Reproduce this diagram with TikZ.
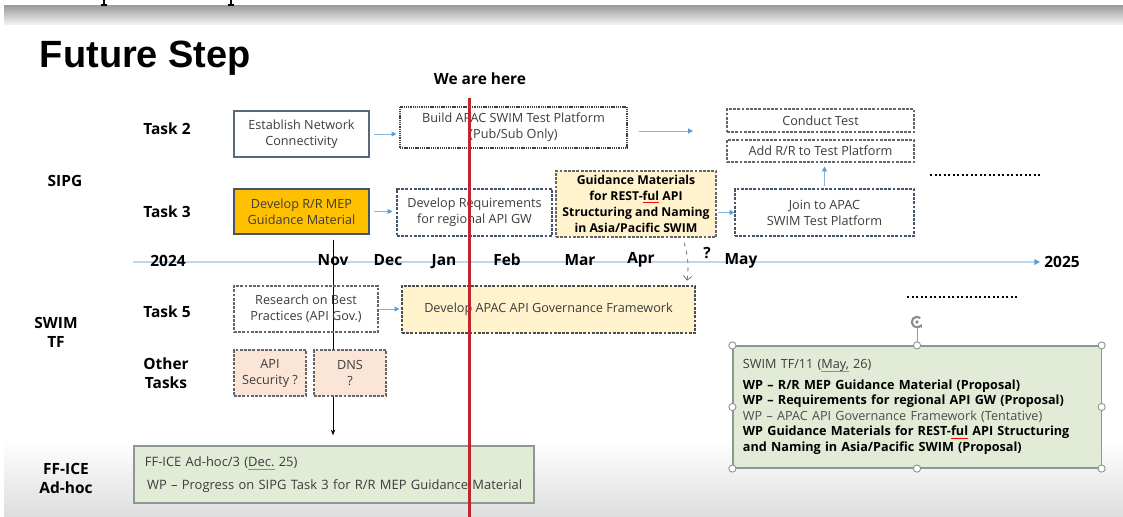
\documentclass[tikz,border=0pt]{standalone}
\usepackage{fontspec}
\setmainfont{Open Sans}
\newfontfamily\titlefont{Liberation Sans}
\usetikzlibrary{arrows.meta, calc, positioning}
\definecolor{boxGray}{HTML}{5A6878}
\definecolor{dashGray}{HTML}{44546A}
\definecolor{txtGray}{HTML}{3C3C3C}
\definecolor{arrowBlue}{HTML}{5B9BD5}
\definecolor{lineBlue}{HTML}{BDD7EE}
\definecolor{orangeFill}{HTML}{FFC000}
\definecolor{yellowFill}{HTML}{FFF2CC}
\definecolor{peachFill}{HTML}{FBE5D6}
\definecolor{greenFill}{HTML}{E2EBD6}
\definecolor{greenEdge}{HTML}{8C9896}
\definecolor{redLine}{HTML}{C0262D}
\newsavebox\wavybox
\newcommand{\wavy}[2]{\sbox\wavybox{#2}\rlap{\textcolor{#1}{\rule[-1.8pt]{\wd\wavybox}{0.5pt}}}\usebox\wavybox}
\newcommand{\boxfont}{\fontsize{9}{11.4}\selectfont}

\begin{document}
\begin{tikzpicture}[x=0.025cm, y=-0.025cm, >=Stealth,
    box/.style={draw=boxGray, line width=0.8pt, fill=white, inner sep=0pt, align=center, font=\boxfont, text=txtGray},
    dbox/.style={box, draw=dashGray, dash pattern=on 2pt off 1pt},
    lbl/.style={font=\fontsize{11}{13.5}\selectfont\bfseries, align=center},
    flow/.style={draw=arrowBlue!75, line width=0.7pt, -{Triangle[length=3.5pt, width=3.5pt, color=arrowBlue]}},
    greenbox/.style={draw=greenEdge, line width=0.8pt, fill=greenFill, inner ysep=0pt, align=left, text=txtGray},
    dots/.style={line width=1.5pt, dash pattern=on 1.5pt off 1.7pt},
    handle/.style={draw=black!45, fill=white, line width=0.6pt}]
    \useasboundingbox (0,0) rectangle (1123,517);
    \fill[white] (0,0) rectangle (1123,517);

    % screen frame
    \shade[top color=black!38, bottom color=black!4] (4,6) rectangle (1123,25);
    \shade[top color=white, bottom color=black!13] (4,440) rectangle (1123,517);
    \draw[line width=0.8pt] (104,0) -- (104,5) (101,5) -- (107,5);
    \draw[line width=0.8pt] (231,0) -- (231,5) (228,5) -- (234,5);

    \node[anchor=base west, font=\titlefont\bfseries\fontsize{27}{30}\selectfont] (title) at (35,68) {Future Step};
    \node[lbl] (here) at (480,79) {We are here};

    % row labels
    \node[lbl] (task2) at (167,129) {Task 2};
    \node[lbl] (sipg) at (65,181) {SIPG};
    \node[lbl] (task3) at (167,212) {Task 3};
    \node[lbl] (task5) at (167,312) {Task 5};
    \node[lbl] (swimtf) at (56,332) {SWIM\\TF};
    \node[lbl] (other) at (166,373) {Other\\Tasks};
    \node[lbl] (adhoc) at (66,478) {FF-ICE\\Ad-hoc};

    % time line
    \coordinate (tStart) at (133,262);
    \coordinate (tEnd) at (1040,262);
    \draw[lineBlue, line width=0.9pt, -{Triangle[length=4pt, width=4pt, color=arrowBlue]}] (tStart) -- (tEnd);
    \node[lbl, anchor=base] (y2024) at (168,267) {2024};
    \node[lbl, anchor=base] (nov) at (333,266) {Nov};
    \node[lbl, anchor=base] (dec) at (388,266) {Dec};
    \node[lbl, anchor=base] (jan) at (444,266) {Jan};
    \node[lbl, anchor=base] (feb) at (507,266) {Feb};
    \node[lbl, anchor=base] (mar) at (580,266) {Mar};
    \node[lbl, anchor=base] (apr) at (641,264) {Apr};
    \node[lbl] (ask) at (707,253) {?};
    \node[lbl, anchor=base] (may) at (741,265) {May};
    \node[lbl, anchor=base] (y2025) at (1062,268) {2025};

    % Task 2
    \node[box, minimum width=3.375cm, minimum height=1.15cm] (est) at (301.5,134) {Establish Network\\Connectivity};
    \node[box, draw=black!75, dash pattern=on 0.8pt off 0.5pt, minimum width=5.675cm, minimum height=1.025cm] (build) at (513.5,127.5) {Build APAC SWIM Test Platform\\(Pub/Sub Only)};
    \node[dbox, draw=black!60, minimum width=4.675cm, minimum height=0.575cm] (conduct) at (820.5,120.5) {Conduct Test};
    \node[dbox, draw=black!60, minimum width=4.675cm, minimum height=0.55cm] (addRR) at (820.5,151) {Add R/R to Test Platform};
    \coordinate (buildTo) at (693,131);
    \draw[flow, shorten <=2.8pt, shorten >=2.1pt] (est.east) -- (est.east -| build.west);
    \draw[flow] (build.east |- buildTo) ++(11,0) -- (buildTo);

    % Task 3
    \node[box, fill=orangeFill, draw=dashGray, minimum width=3.375cm, minimum height=1.125cm] (mep) at (301.5,211.5) {Develop R/R MEP\\Guidance Material};
    \node[dbox, minimum width=3.875cm, minimum height=1.175cm] (req) at (474.5,212.5) {Develop Requirements\\for regional API GW};
    \node[dbox, draw=black!60, fill=yellowFill, text=black, minimum width=4cm, minimum height=1.65cm,
        font=\fontsize{8.7}{11.4}\selectfont\bfseries] (guide) at (636,204) {Guidance Materials\\for REST-\wavy{red}{ful} API\\Structuring and Naming\\in Asia/Pacific SWIM};
    \node[dbox, minimum width=4.475cm, minimum height=1.175cm] (join) at (824.5,212.5) {Join to APAC\\SWIM Test Platform};
    \draw[flow, shorten <=2.8pt, shorten >=2.8pt] (mep.east) -- (mep.east -| req.west);
    \draw[flow, shorten <=0.7pt] (guide.east |- join) -- (join.west);
    \draw[flow, shorten <=1.4pt, shorten >=2.8pt] (join.north) -- (join.north |- addRR.south);
    \draw[black!70, thin, dashed, ->, >={Straight Barb[length=3pt]}] ($(guide.south)+(48,5)$) to[bend left=12] ($(guide.south)+(51,43)$);

    % Task 5 and other tasks
    \draw[thin, -{Stealth[length=4pt, width=3.2pt]}, shorten >=0.27cm] (mep.south -| nov) ++(0,5) -- (nov |- 0,446);
    \node[dbox, fill=none, draw=black!60, minimum width=3.6cm, minimum height=1.15cm] (research) at (306,309) {Research on Best\\Practices (API Gov.)};
    \node[dbox, draw=black!70, fill=yellowFill, minimum width=7.325cm, minimum height=1.175cm] (gov) at (548.5,309.5) {Develop APAC API Governance Framework};
    \draw[flow, shorten >=1.4pt] (research.east) -- (research.east -| gov.west);
    \node[dbox, draw=black!60, fill=peachFill, minimum width=1.8cm, minimum height=1.15cm] (apiSec) at (270,373) {API\\Security ?};
    \node[dbox, draw=black!60, fill=peachFill, minimum width=1.8cm, minimum height=1.15cm] (dns) at (350,373) {DNS\\?};

    \draw[dots] (930,175) -- (1040,175);
    \draw[dots] (907,297) -- (1017,297);

    % meetings
    \node[greenbox, minimum width=10cm, minimum height=1.425cm, text width=9.45cm, inner xsep=0.275cm,
        font=\fontsize{9.2}{11.4}\selectfont] (ffice) at (334,474.5)
        {FF-ICE Ad-hoc/3 (\wavy{arrowBlue}{Dec.} 25)\\[4.5pt]
         \hspace*{1.5pt}WP – Progress on SIPG Task 3 for R/R MEP Guidance Material};
    \node[greenbox, minimum width=9.2cm, minimum height=3.05cm, text width=8.7cm, inner xsep=0.25cm,
        font=\fontsize{9}{11}\selectfont] (tf) at (917,407)
        {SWIM TF/11 (\wavy{arrowBlue}{May,} 26)\\[3.5pt]
         \textcolor{black}{\bfseries WP – R/R MEP Guidance Material (Proposal)}\\
         \textcolor{black}{\bfseries WP – Requirements for regional API GW (Proposal)}\\
         \textcolor{black!70}{WP – APAC API Governance Framework (Tentative)}\\
         \textcolor{black}{\bfseries WP Guidance Materials for REST-\wavy{red}{ful} API Structuring}\\
         \textcolor{black}{\bfseries and Naming in Asia/Pacific SWIM (Proposal)}};
    \draw[black!40, line width=0.6pt] (tf.north) -- ++(0,-19);
    \draw[black!45, line width=1.5pt, -{Stealth[length=3pt]}] ([shift={(50:0.13cm)}]917,322) arc[start angle=50, end angle=340, radius=0.13cm];
    \fill[black!45] (917,322) circle[radius=0.045cm];
    \foreach \a in {north west, north, north east, east, south east, south, south west, west}
        \draw[handle] (tf.\a) circle[radius=0.09cm];

    % now
    \coordinate (nowTop) at (469.5,98);
    \coordinate (nowBot) at (469.5,517);
    \draw[redLine, line width=2.2pt] (nowTop) -- (nowBot);
\end{tikzpicture}
\end{document}
